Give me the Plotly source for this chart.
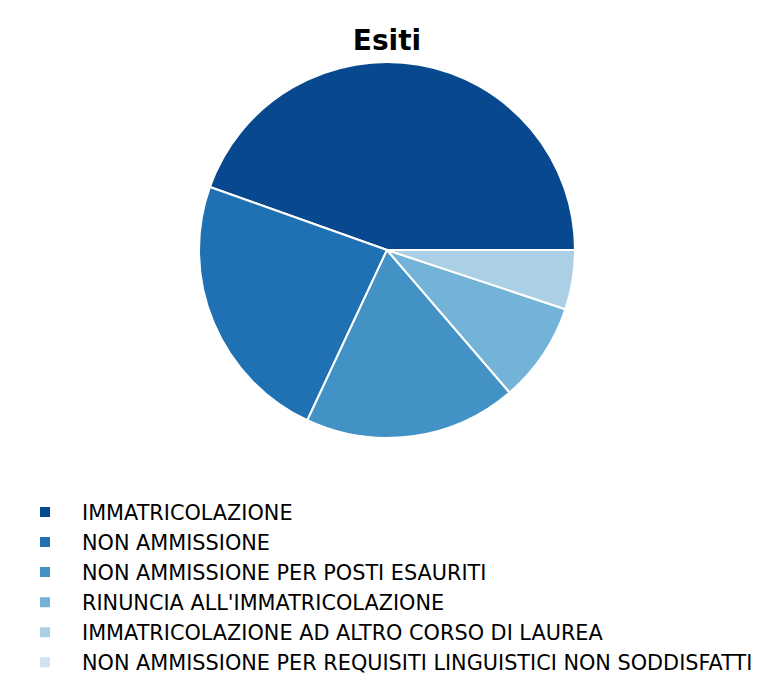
import plotly.graph_objects as go

# -----------------------------
# Data
# -----------------------------
LABELS = [
    "IMMATRICOLAZIONE",
    "NON AMMISSIONE",
    "NON AMMISSIONE PER POSTI ESAURITI",
    "RINUNCIA ALL'IMMATRICOLAZIONE",
    "IMMATRICOLAZIONE AD ALTRO CORSO DI LAUREA",
    "NON AMMISSIONE PER REQUISITI LINGUISTICI NON SODDISFATTI",
]
SHARES = [44.6, 23.5, 18.3, 8.6, 5.1, 0.0]

# -----------------------------
# Color Theme
# -----------------------------
SLICE_COLORS = ["#08488e", "#2070b4", "#4292c6", "#73b3d8", "#abd0e6", "#d0e1f2"]
FONT = "DejaVu Sans"

# page has an 8px body margin, so the figure is a bit smaller than the window
W, H = 758, 683

# first slice must start at 3 o'clock and run counterclockwise
start_rot = 90 - 360 * SHARES[0] / sum(SHARES)

fig = go.Figure()

fig.add_trace(go.Pie(
    labels=LABELS,
    values=SHARES,
    sort=False,
    direction="counterclockwise",
    rotation=start_rot,
    textinfo="none",
    hoverinfo="label+percent",
    marker=dict(colors=SLICE_COLORS, line=dict(color="white", width=2)),
    domain=dict(x=[0.2520, 0.7480], y=[0.3704, 0.9209]),
))

fig.update_layout(
    width=W,
    height=H,
    margin=dict(l=0, r=0, t=0, b=0),
    paper_bgcolor="white",
    plot_bgcolor="white",
    font=dict(family=FONT, color="black", size=20.8),
    title=dict(
        text="<b>Esiti</b>",
        x=0.5,
        xanchor="center",
        y=1 - 32 / H,
        yanchor="middle",
        font=dict(family=FONT, size=28, color="black"),
    ),
    legend=dict(
        x=0.0,
        xanchor="left",
        y=8 / H,
        yanchor="bottom",
        itemwidth=64,
        font=dict(family=FONT, size=20.8, color="black"),
        bgcolor="rgba(0,0,0,0)",
        traceorder="normal",
    ),
)

fig.write_html("out.html")
